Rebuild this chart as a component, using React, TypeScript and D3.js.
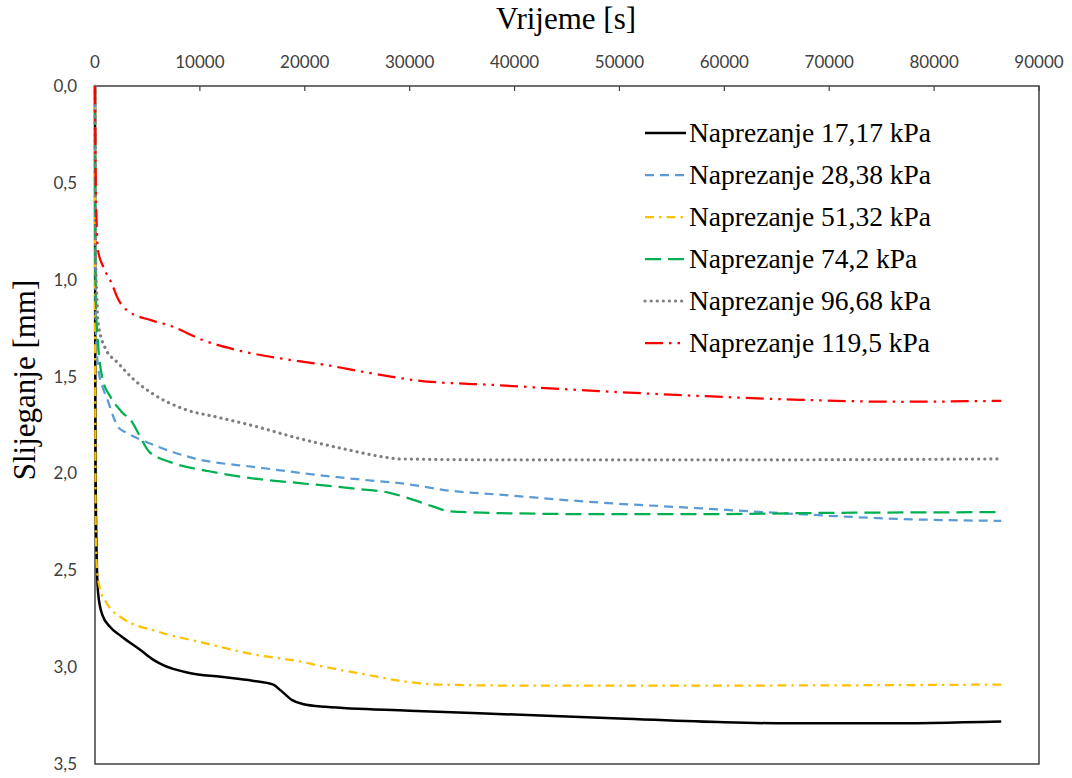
import * as d3 from "d3";

// time [s], settlement [mm]
const t1717 = [0, 15, 60, 150, 300, 700, 1400, 2500, 4300, 5500, 6500, 9000, 12000, 15000, 17000, 17700, 18800, 19800, 22000, 30000, 40000, 50000, 60000, 66000, 75000, 86400];
const s1717 = [0, 1.2, 2.0, 2.4, 2.62, 2.73, 2.79, 2.84, 2.91, 2.96, 2.99, 3.03, 3.05, 3.07, 3.09, 3.12, 3.17, 3.19, 3.205, 3.225, 3.245, 3.265, 3.285, 3.29, 3.29, 3.28];

const t2838 = [0, 30, 100, 300, 700, 1200, 1700, 2200, 3000, 5000, 9300, 15700, 20000, 25000, 29000, 34000, 38600, 48000, 57700, 67000, 76700, 86400];
const s2838 = [0, 1.0, 1.3, 1.45, 1.55, 1.62, 1.7, 1.76, 1.79, 1.84, 1.92, 1.97, 2.0, 2.03, 2.05, 2.09, 2.11, 2.15, 2.18, 2.21, 2.235, 2.245];

const t5132 = [0, 20, 80, 200, 500, 1000, 1500, 2400, 6200, 10000, 15700, 19500, 22000, 26000, 29000, 33000, 40000, 60000, 86400];
const s5132 = [0, 1.5, 2.3, 2.5, 2.6, 2.66, 2.7, 2.74, 2.82, 2.87, 2.94, 2.97, 3.0, 3.04, 3.07, 3.09, 3.095, 3.095, 3.09];

const t742 = [0, 30, 100, 290, 760, 1430, 2500, 3600, 4200, 5200, 7100, 11000, 15700, 19500, 25000, 28100, 30000, 32200, 33800, 38600, 48000, 60000, 67000, 86400];
const s742 = [0, 0.9, 1.15, 1.33, 1.52, 1.6, 1.68, 1.74, 1.8, 1.89, 1.94, 1.99, 2.03, 2.05, 2.08, 2.1, 2.13, 2.17, 2.195, 2.205, 2.21, 2.21, 2.205, 2.2];

const t9668 = [0, 40, 190, 290, 950, 2200, 3800, 5400, 8600, 11700, 14800, 19500, 24300, 27500, 29000, 40000, 60000, 86400];
const s9668 = [0, 0.8, 1.1, 1.22, 1.35, 1.43, 1.52, 1.585, 1.67, 1.71, 1.75, 1.82, 1.88, 1.915, 1.925, 1.93, 1.93, 1.925];

const t1195 = [0, 50, 190, 290, 760, 1600, 2200, 3100, 5400, 7300, 10200, 13300, 18100, 22000, 26000, 30700, 38600, 48000, 57700, 67200, 76700, 86400];
const s1195 = [0, 0.4, 0.76, 0.85, 0.93, 1.02, 1.1, 1.16, 1.21, 1.24, 1.31, 1.36, 1.41, 1.44, 1.48, 1.52, 1.545, 1.575, 1.6, 1.62, 1.63, 1.625];

const seriesNames = [
  "Naprezanje 17,17 kPa",
  "Naprezanje 28,38 kPa",
  "Naprezanje 51,32 kPa",
  "Naprezanje 74,2 kPa",
  "Naprezanje 96,68 kPa",
  "Naprezanje 119,5 kPa",
];

const xTicks = [0, 10000, 20000, 30000, 40000, 50000, 60000, 70000, 80000, 90000];
const yTicks = [0, 0.5, 1.0, 1.5, 2.0, 2.5, 3.0, 3.5];

const series = [
  { name: seriesNames[0], t: t1717, s: s1717, color: "#000000", dash: "none", cap: "butt", w: 2.5 },
  { name: seriesNames[1], t: t2838, s: s2838, color: "#5B9BD5", dash: "9,6", cap: "butt", w: 2.25 },
  { name: seriesNames[2], t: t5132, s: s5132, color: "#FFC000", dash: "9,5,2.5,5", cap: "butt", w: 2.25 },
  { name: seriesNames[3], t: t742, s: s742, color: "#00B050", dash: "16,7", cap: "butt", w: 2.25 },
  { name: seriesNames[4], t: t9668, s: s9668, color: "#7F7F7F", dash: "0.1,6", cap: "round", w: 3.2 },
  { name: seriesNames[5], t: t1195, s: s1195, color: "#FF0000", dash: "18,6,2.5,6,2.5,6", cap: "butt", w: 2.25 },
];

const W = 1072;
const H = 778;
const margin = { left: 95, top: 86, right: 33, bottom: 14 };
const serif = "'Liberation Serif', 'Times New Roman', serif";
const sans = "Lato, 'Noto Sans', sans-serif";

export default function App() {
  const x = d3.scaleLinear().domain([0, 90000]).range([margin.left, W - margin.right]);
  const y = d3.scaleLinear().domain([0, 3.5]).range([margin.top, H - margin.bottom]);

  const line = d3
    .line<[number, number]>()
    .x((d) => x(d[0]))
    .y((d) => y(d[1]))
    .curve(d3.curveMonotoneX);

  const fmtY = (v: number) => v.toFixed(1).replace(".", ",");

  return (
    <div style={{ position: "absolute", left: 0, top: 0 }}>
      <svg width={W} height={H} style={{ display: "block", background: "#fff" }}>
        {/* plot border */}
        <rect
          x={x(0)}
          y={y(0)}
          width={x(90000) - x(0)}
          height={y(3.5) - y(0)}
          fill="none"
          stroke="#404040"
          strokeWidth={1.5}
        />

        {/* x ticks on top, pointing inwards */}
        {xTicks.map((t) => (
          <g key={t}>
            <line x1={x(t)} x2={x(t)} y1={y(0)} y2={y(0) + 5} stroke="#404040" strokeWidth={1.2} />
            <text x={x(t)} y={68} textAnchor="middle" fontFamily={sans} fontSize={17} fill="#404040">
              {t}
            </text>
          </g>
        ))}

        {/* y tick labels */}
        {yTicks.map((v) => (
          <text key={v} x={77} y={y(v) + 6} textAnchor="end" fontFamily={sans} fontSize={17} fill="#404040">
            {fmtY(v)}
          </text>
        ))}

        {/* axis titles */}
        <text x={566} y={29} textAnchor="middle" fontFamily={serif} fontSize={31} fill="#000">
          Vrijeme [s]
        </text>
        <text
          transform={`translate(35, 380) rotate(-90)`}
          textAnchor="middle"
          fontFamily={serif}
          fontSize={31}
          fill="#000"
        >
          Slijeganje [mm]
        </text>

        {/* series */}
        {series.map((sr) => (
          <path
            key={sr.name}
            d={line(sr.t.map((t, i) => [t, sr.s[i]] as [number, number])) || ""}
            fill="none"
            stroke={sr.color}
            strokeWidth={sr.w}
            strokeDasharray={sr.dash}
            strokeLinecap={sr.cap as any}
            strokeLinejoin="round"
          />
        ))}

        {/* legend */}
        {series.map((sr, i) => {
          const ly = 133 + i * 42;
          return (
            <g key={sr.name}>
              <line
                x1={645}
                x2={686}
                y1={ly}
                y2={ly}
                stroke={sr.color}
                strokeWidth={sr.w}
                strokeDasharray={sr.dash}
                strokeLinecap={sr.cap as any}
              />
              <text x={689} y={ly + 9} fontFamily={serif} fontSize={27.5} fill="#000">
                {sr.name}
              </text>
            </g>
          );
        })}
      </svg>
    </div>
  );
}
